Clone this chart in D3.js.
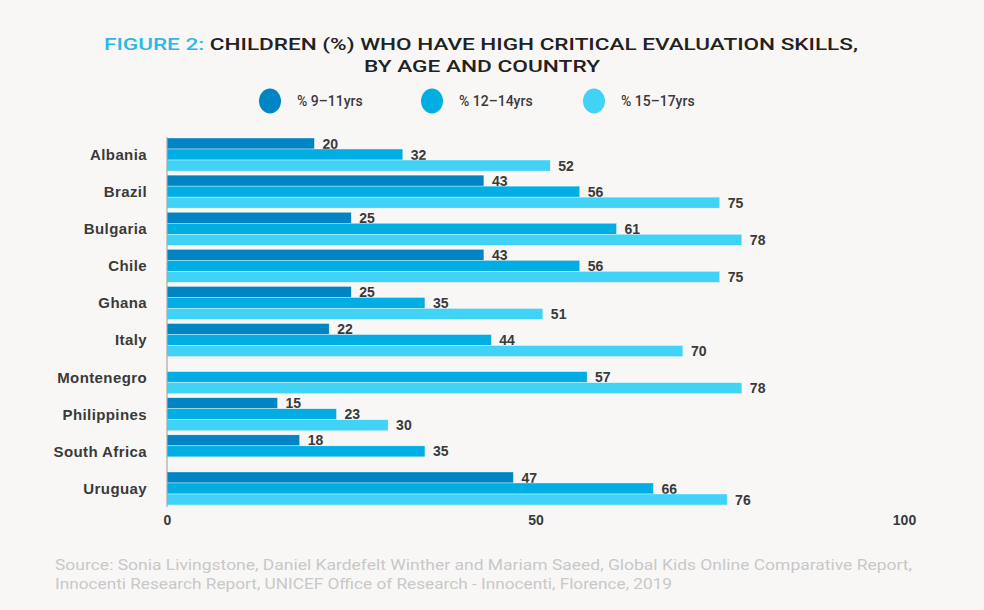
<!DOCTYPE html>
<html>
<head>
<meta charset="utf-8">
<script src="https://cdn.jsdelivr.net/npm/d3@7"></script>
<style>
  html, body { margin: 0; padding: 0; background: #f8f7f6; }
  svg { display: block; }
</style>
</head>
<body>
<div id="chart"></div>
<script>
// Children (%) with high critical evaluation skills, by age and country
const countries = ["Albania", "Brazil", "Bulgaria", "Chile", "Ghana", "Italy",
                   "Montenegro", "Philippines", "South Africa", "Uruguay"];
const age9to11  = [20, 43, 25, 43, 25, 22, null, 15, 18, 47];
const age12to14 = [32, 56, 61, 56, 35, 44, 57, 23, 35, 66];
const age15to17 = [52, 75, 78, 75, 51, 70, 78, 30, null, 76];
const seriesKeys = ["a", "b", "c"];
const seriesLabels = ["% 9\u201311yrs", "% 12\u201314yrs", "% 15\u201317yrs"];
const seriesColors = ["#0084c4", "#00aee3", "#40d3f6"];
const xTicks = [0, 50, 100];
const sourceLines = [
  "Source: Sonia Livingstone, Daniel Kardefelt Winther and Mariam Saeed, Global Kids Online Comparative Report,",
  "Innocenti Research Report, UNICEF Office of Research - Innocenti, Florence, 2019"
];

const width = 984, height = 610;
const textColor = "#3a3a3a";

const rows = countries.map((c, i) => ({
  country: c,
  a: age9to11[i], b: age12to14[i], c: age15to17[i]
}));

const svg = d3.select("#chart").append("svg")
  .attr("width", width)
  .attr("height", height);

svg.append("rect")
  .attr("width", width).attr("height", height)
  .attr("fill", "#f8f7f6");

// Title
const title = svg.append("g")
  .attr("font-family", "Roboto, sans-serif")
  .attr("font-weight", 500)
  .attr("font-size", 17)
  .attr("fill", "#222");

const t1 = title.append("text")
  .attr("x", 481).attr("y", 50)
  .attr("text-anchor", "middle")
  .attr("textLength", 754)
  .attr("lengthAdjust", "spacingAndGlyphs");
t1.append("tspan").attr("fill", "#2db7e6").text("FIGURE 2: ");
t1.append("tspan").text("CHILDREN (%) WHO HAVE HIGH CRITICAL EVALUATION SKILLS,");

title.append("text")
  .attr("x", 482).attr("y", 72)
  .attr("text-anchor", "middle")
  .attr("textLength", 236)
  .attr("lengthAdjust", "spacingAndGlyphs")
  .text("BY AGE AND COUNTRY");

// Legend
const legendX = [270, 432, 594];
const legend = svg.append("g")
  .selectAll("g")
  .data(seriesKeys)
  .join("g")
  .attr("transform", (d, i) => `translate(${legendX[i]},101)`);

legend.append("ellipse")
  .attr("rx", 11).attr("ry", 12.5)
  .attr("fill", (d, i) => seriesColors[i]);

legend.append("text")
  .attr("x", 27).attr("y", 5)
  .attr("font-family", "Roboto, sans-serif")
  .attr("font-weight", 500)
  .attr("font-size", 14)
  .attr("fill", textColor)
  .text((d, i) => seriesLabels[i]);

// Scales
const x = d3.scaleLinear()
  .domain([0, 100])
  .range([167, 904]);

const y = d3.scaleBand()
  .domain(countries)
  .range([138, 505])
  .paddingInner(0.11)
  .paddingOuter(0);

const ySub = d3.scaleBand()
  .domain(seriesKeys)
  .range([0, y.bandwidth()]);

// Bars
const groups = svg.append("g")
  .selectAll("g")
  .data(rows)
  .join("g")
  .attr("transform", d => `translate(0,${y(d.country)})`);

const cells = groups.selectAll("g")
  .data(d => seriesKeys.map((k, i) => ({ key: k, i: i, value: d[k] }))
    .filter(e => e.value != null))
  .join("g");

cells.append("rect")
  .attr("x", x(0))
  .attr("y", d => ySub(d.key))
  .attr("width", d => x(d.value) - x(0))
  .attr("height", ySub.bandwidth())
  .attr("fill", d => seriesColors[d.i])
  .attr("stroke", "#f8f7f6")
  .attr("stroke-width", 0.4);

cells.append("text")
  .attr("x", d => x(d.value) + 8)
  .attr("y", d => ySub(d.key) + ySub.bandwidth() / 2)
  .attr("dy", "0.36em")
  .attr("font-family", "'Liberation Sans', Arial, sans-serif")
  .attr("font-weight", "bold")
  .attr("font-size", 14)
  .attr("fill", textColor)
  .text(d => d.value);

// Country labels
svg.append("g")
  .selectAll("text")
  .data(countries)
  .join("text")
  .attr("x", 147)
  .attr("y", d => y(d) + y.bandwidth() / 2)
  .attr("dy", "0.36em")
  .attr("text-anchor", "end")
  .attr("font-family", "'Liberation Sans', Arial, sans-serif")
  .attr("font-weight", "bold")
  .attr("font-size", 15)
  .attr("letter-spacing", 0.4)
  .attr("fill", textColor)
  .text(d => d);

// Vertical baseline
svg.append("line")
  .attr("x1", x(0)).attr("x2", x(0))
  .attr("y1", 137).attr("y2", 507)
  .attr("stroke", "#9a9a9a")
  .attr("stroke-width", 1);

// X axis
const xAxis = svg.append("g")
  .attr("transform", "translate(0,515)")
  .call(d3.axisBottom(x).tickValues(xTicks).tickSize(0).tickPadding(0));
xAxis.select(".domain").remove();
xAxis.selectAll("text")
  .attr("dy", "0.71em")
  .attr("font-family", "'Liberation Sans', Arial, sans-serif")
  .attr("font-weight", "bold")
  .attr("font-size", 14)
  .attr("fill", textColor);

// Source note
svg.append("g")
  .selectAll("text")
  .data(sourceLines)
  .join("text")
  .attr("x", 55)
  .attr("y", (d, i) => 570 + i * 19)
  .attr("font-family", "Roboto, sans-serif")
  .attr("font-size", 14)
  .attr("fill", "#c8c8c8")
  .attr("textLength", (d, i) => i === 0 ? 857 : 617)
  .attr("lengthAdjust", "spacingAndGlyphs")
  .text(d => d);
</script>
</body>
</html>
